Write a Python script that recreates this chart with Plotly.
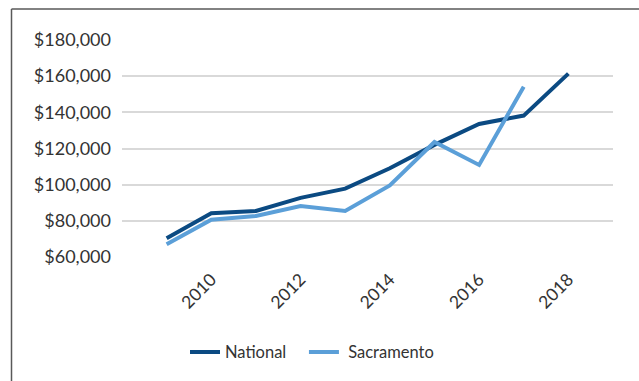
import plotly.graph_objects as go

years = [2009, 2010, 2011, 2012, 2013, 2014, 2015, 2016, 2017, 2018]
national = [70400, 84200, 85500, 92700, 97800, 109100, 122000, 133600, 138200, 161400]
sac_years = [2009, 2010, 2011, 2012, 2013, 2014, 2015, 2016, 2017]
sacramento = [67100, 80600, 82700, 88200, 85500, 99600, 123600, 110900, 154200]
y_ticks = [60000, 80000, 100000, 120000, 140000, 160000, 180000]
y_labels = ["$60,000", "$80,000", "$100,000", "$120,000", "$140,000", "$160,000", "$180,000"]
x_ticks = [2010, 2012, 2014, 2016, 2018]

FONT = "Lato"
TEXT = "#333333"

fig = go.Figure()
fig.add_trace(go.Scatter(x=years, y=national, mode="lines",
                         name="National\u00a0\u00a0\u00a0",
                         line=dict(color="#0b4a82", width=4)))
fig.add_trace(go.Scatter(x=sac_years, y=sacramento, mode="lines",
                         name="\u00a0Sacramento",
                         line=dict(color="#5b9fd8", width=4)))

L, R, T, B = 122, 26, 40, 121
W, H = 639, 381
pw = W - L - R
ph = H - T - B

def px_x(p):
    return (p - L) / pw

def px_y(p):
    return (H - B - p) / ph

fig.update_layout(
    width=W, height=H,
    margin=dict(l=L, r=R, t=T, b=B, pad=0),
    paper_bgcolor="white", plot_bgcolor="white",
    font=dict(family=FONT, size=18, color=TEXT),
    showlegend=True,
    legend=dict(orientation="h", x=px_x(185), xanchor="left",
                y=px_y(356.5), yanchor="middle",
                font=dict(family=FONT, size=16.5, color=TEXT),
                bgcolor="rgba(0,0,0,0)", itemwidth=30, tracegroupgap=0),
    xaxis=dict(range=[2008, 2019], tickmode="array", tickvals=x_ticks,
               ticktext=[str(v) for v in x_ticks], tickangle=-45,
               showgrid=False, zeroline=False, showline=False, ticks="",
               ticklabelstandoff=8,
               tickfont=dict(family=FONT, size=17.5, color=TEXT)),
    yaxis=dict(range=[60000, 180000], tickmode="array", tickvals=y_ticks,
               ticktext=y_labels, showgrid=True, gridcolor="#d9d9d9", gridwidth=2,
               zeroline=False, showline=False, ticks="", ticklabelstandoff=10,
               tickfont=dict(family=FONT, size=18, color=TEXT)),
    shapes=[
        dict(type="line", xref="paper", yref="paper",
             x0=px_x(11.5), x1=px_x(11.5), y0=px_y(8.5), y1=px_y(395),
             line=dict(color="#595959", width=1.5)),
        dict(type="line", xref="paper", yref="paper",
             x0=px_x(11.5), x1=px_x(650), y0=px_y(8.5), y1=px_y(8.5),
             line=dict(color="#595959", width=1.5)),
    ],
)

fig.write_html("out.html")
